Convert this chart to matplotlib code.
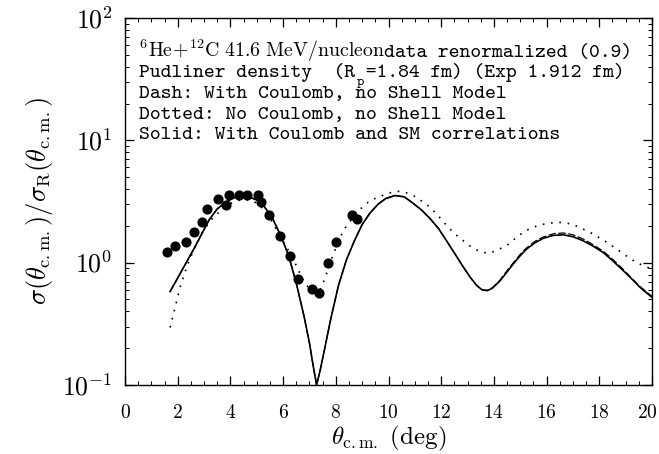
import os
import matplotlib
matplotlib.use("Agg")
import matplotlib as mpl
import matplotlib.pyplot as plt
from matplotlib.font_manager import FontProperties
from matplotlib.transforms import ScaledTranslation
from matplotlib.ticker import FixedLocator, FixedFormatter, MultipleLocator, LogLocator, NullFormatter

mpl.rcParams["mathtext.fontset"] = "cm"
mpl.rcParams["axes.unicode_minus"] = False

# Measured elastic cross-section ratio (renormalized data)
theta_data = [1.59, 1.90, 2.30, 2.62, 2.91, 3.12, 3.52, 3.83, 3.94, 4.34, 4.64, 5.05,
              5.15, 5.46, 5.87, 6.26, 6.58, 7.09, 7.37, 7.69, 8.00, 8.60, 8.80]
ratio_data = [1.22, 1.38, 1.48, 1.78, 2.15, 2.77, 3.34, 2.96, 3.60, 3.60, 3.60, 3.60,
              3.13, 2.45, 1.66, 1.14, 0.74, 0.61, 0.57, 1.00, 1.48, 2.45, 2.29]

# Solid: with Coulomb and shell-model correlations
theta_solid = [1.71, 2.00, 2.30, 2.60, 2.90, 3.20, 3.50, 3.80, 4.10, 4.40, 4.70, 5.00,
               5.30, 5.60, 5.90, 6.20, 6.50, 6.80, 7.00, 7.15, 7.27, 7.40, 7.55, 7.80,
               8.10, 8.40, 8.70, 9.00, 9.30, 9.60, 9.90, 10.25, 10.60, 10.94, 11.25,
               11.57, 11.90, 12.21, 12.50, 12.84, 13.10, 13.35, 13.55, 13.75, 13.95,
               14.23, 14.50, 14.74, 15.00, 15.24, 15.55, 15.87, 16.25, 16.63, 17.00,
               17.39, 17.75, 18.15, 18.50, 18.91, 19.25, 19.54, 20.00]
ratio_solid = [0.58, 0.75, 0.98, 1.28, 1.70, 2.25, 2.75, 3.10, 3.38, 3.50, 3.45, 3.25,
               2.85, 2.30, 1.68, 1.16, 0.68, 0.36, 0.22, 0.14, 0.10, 0.13, 0.185, 0.34,
               0.65, 1.05, 1.50, 2.05, 2.55, 3.00, 3.35, 3.54, 3.45, 3.05, 2.70,
               2.30, 1.90, 1.50, 1.20, 0.92, 0.76, 0.65, 0.60, 0.59, 0.62,
               0.71, 0.84, 0.98, 1.14, 1.29, 1.45, 1.58, 1.67, 1.69, 1.63,
               1.51, 1.37, 1.21, 1.04, 0.86, 0.73, 0.63, 0.52]

# Dash: with Coulomb, no shell model
theta_dash = [1.71, 2.00, 2.30, 2.60, 2.90, 3.20, 3.50, 3.80, 4.10, 4.40, 4.70, 5.00,
              5.30, 5.60, 5.90, 6.20, 6.50, 6.80, 7.00, 7.15, 7.27, 7.40, 7.55, 7.80,
              8.10, 8.40, 8.70, 9.00, 9.30, 9.60, 9.90, 10.25, 10.60, 10.94, 11.25,
              11.57, 11.90, 12.21, 12.50, 12.84, 13.10, 13.35, 13.55, 13.75, 13.95,
              14.23, 14.50, 14.74, 15.00, 15.24, 15.55, 15.87, 16.25, 16.63, 17.00,
              17.39, 17.75, 18.15, 18.50, 18.91, 19.25, 19.54, 20.00]
ratio_dash = [0.58, 0.75, 0.98, 1.28, 1.70, 2.25, 2.75, 3.10, 3.38, 3.50, 3.45, 3.25,
              2.85, 2.30, 1.68, 1.16, 0.68, 0.36, 0.22, 0.14, 0.10, 0.13, 0.185, 0.34,
              0.65, 1.05, 1.50, 2.05, 2.55, 3.00, 3.35, 3.54, 3.45, 3.05, 2.70,
              2.30, 1.90, 1.50, 1.20, 0.92, 0.76, 0.65, 0.60, 0.595, 0.625,
              0.72, 0.86, 1.00, 1.17, 1.32, 1.49, 1.62, 1.72, 1.75, 1.69,
              1.56, 1.41, 1.24, 1.07, 0.88, 0.74, 0.64, 0.53]

# Dotted: no Coulomb, no shell model
theta_dot = [1.71, 1.90, 2.09, 2.34, 2.59, 2.97, 3.35, 3.86, 4.20, 4.55, 4.90, 5.12,
             5.40, 5.63, 5.90, 6.14, 6.45, 6.77, 7.00, 7.15, 7.30, 7.45, 7.60, 7.91,
             8.28, 8.79, 9.30, 9.93, 10.30, 10.60, 10.94, 11.25, 11.57, 11.90, 12.21,
             12.50, 12.84, 13.15, 13.47, 13.70, 13.85, 14.10, 14.49, 14.90, 15.20,
             15.50, 15.80, 16.13, 16.40, 16.70, 17.01, 17.30, 17.65, 17.95, 18.28,
             18.60, 18.91, 19.20, 19.42, 19.70, 19.92]
ratio_dot = [0.295, 0.43, 0.63, 0.92, 1.25, 1.83, 2.35, 2.93, 3.20, 3.30, 3.15, 2.93,
             2.50, 2.08, 1.62, 1.33, 1.00, 0.71, 0.61, 0.59, 0.57, 0.62, 0.76, 1.18,
             1.83, 2.58, 3.22, 3.66, 3.84, 3.78, 3.54, 3.20, 2.84, 2.40, 2.01,
             1.73, 1.51, 1.34, 1.23, 1.20, 1.20, 1.26, 1.38, 1.64, 1.82,
             1.95, 2.05, 2.10, 2.14, 2.12, 2.05, 1.92, 1.77, 1.62, 1.47,
             1.32, 1.18, 1.07, 1.00, 0.94, 0.90]

x_ticks = [0, 2, 4, 6, 8, 10, 12, 14, 16, 18, 20]
x_tick_labels = ["0", "2", "4", "6", "8", "10", "12", "14", "16", "18", "20"]
y_ticks = [0.1, 1, 10, 100]
y_tick_labels = [r"$10^{-1}$", r"$10^{0}$", r"$10^{1}$", r"$10^{2}$"]

legend_lines = [
    "data renormalized (0.9)",
    "Pudliner density  (R =1.84 fm) (Exp 1.912 fm)",
    "Dash: With Coulomb, no Shell Model",
    "Dotted: No Coulomb, no Shell Model",
    "Solid: With Coulomb and SM correlations",
]

W, H = 659, 454
fig = plt.figure(figsize=(W / 100, H / 100), dpi=100)
ax = fig.add_axes([125 / W, 1 - 385 / H, 527 / W, 367 / H])

ax.set_yscale("log")
ax.set_xlim(0, 20)
ax.set_ylim(0.1, 100)

ax.plot(theta_solid, ratio_solid, color="black", lw=1.2, solid_joinstyle="round")
ax.plot(theta_dash, ratio_dash, color="black", lw=0.9, linestyle=(0, (6, 2)))
ax.plot(theta_dot, ratio_dot, color="black", lw=1.2, linestyle=(0, (1, 4)))
ax.plot(theta_data, ratio_data, "o", color="black", ms=6.3, mec="black")

# Axes, ticks
for s in ax.spines.values():
    s.set_linewidth(1.0)
ax.xaxis.set_major_locator(FixedLocator(x_ticks))
ax.xaxis.set_major_formatter(FixedFormatter([f"${t}$" for t in x_tick_labels]))
ax.xaxis.set_minor_locator(MultipleLocator(0.5))
ax.yaxis.set_major_locator(FixedLocator(y_ticks))
ax.yaxis.set_major_formatter(FixedFormatter(y_tick_labels))
ax.yaxis.set_minor_locator(LogLocator(base=10, subs=range(2, 10)))
ax.yaxis.set_minor_formatter(NullFormatter())
ax.tick_params(which="both", direction="in", top=True, right=True, color="black")
ax.tick_params(which="major", length=6.5, width=0.9)
ax.tick_params(which="minor", length=3.2, width=0.7)
ax.tick_params(axis="x", which="major", labelsize=14, pad=13)
ax.tick_params(axis="y", which="major", labelsize=18.5, pad=9)

# keep the last x tick label inside the figure
last = ax.xaxis.get_major_ticks()[-1].label1
last.set_transform(last.get_transform() + ScaledTranslation(-0.05, 0, fig.dpi_scale_trans))

ax.set_xlabel(r"$\theta_{\rm c.m.}\ (\rm deg)$", fontsize=18, labelpad=1)
ax.set_ylabel(r"$\sigma(\theta_{\rm c.m.})/\sigma_{\rm R}(\theta_{\rm c.m.})$",
              fontsize=19, labelpad=5)

# Annotation block
ttf_dir = os.path.join(mpl.get_data_path(), "fonts", "ttf")
mono = FontProperties(fname=os.path.join(ttf_dir, "cmtt10.ttf"), size=14.8)
mono_small = FontProperties(fname=os.path.join(ttf_dir, "cmtt10.ttf"), size=10)
cw = 10.8  # character advance in pixels
x0 = 139
baselines = [57, 77.5, 98, 118.5, 139]


def fx(px):
    return px / W


def fy(py):
    return 1 - py / H


fig.text(fx(x0), fy(baselines[0]), r"$^{6}\mathrm{He}\!+\!^{12}\mathrm{C}\ 41.6\ \mathrm{MeV/nucleon}$",
         fontsize=14.3, va="baseline", ha="left")
fig.text(fx(384), fy(baselines[0]), legend_lines[0], fontproperties=mono, va="baseline", ha="left")
for line, b in zip(legend_lines[1:], baselines[1:]):
    fig.text(fx(x0), fy(b), line, fontproperties=mono, va="baseline", ha="left")
fig.text(fx(x0 + 20 * cw + 2), fy(baselines[1] + 7), "p", fontproperties=mono_small,
         va="baseline", ha="left")

fig.savefig("out.png", dpi=100)
